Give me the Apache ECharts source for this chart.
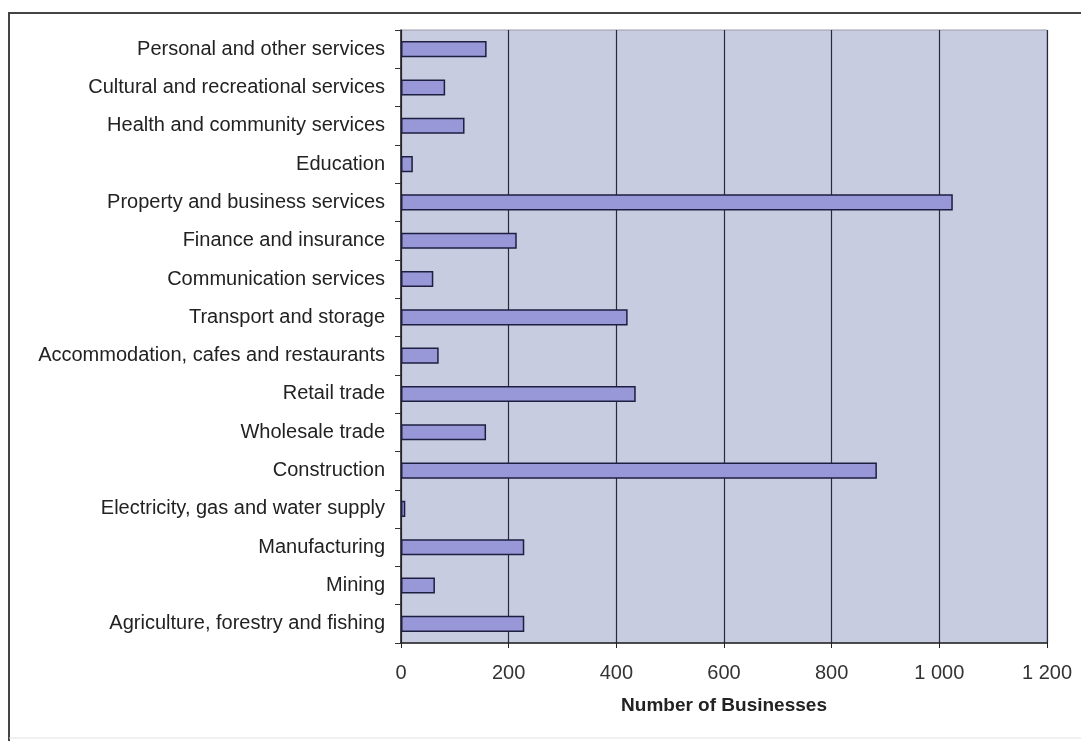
<!DOCTYPE html>
<html>
<head>
<meta charset="utf-8">
<script src="https://cdn.jsdelivr.net/npm/echarts@6/dist/echarts.min.js"></script>
<style>
  html, body { margin: 0; padding: 0; background: #ffffff; }
  #chart { width: 1081px; height: 741px; }
</style>
</head>
<body>
<div id="chart"></div>
<script>
// Industry sectors, listed top to bottom as displayed
const industries = [
  'Personal and other services',
  'Cultural and recreational services',
  'Health and community services',
  'Education',
  'Property and business services',
  'Finance and insurance',
  'Communication services',
  'Transport and storage',
  'Accommodation, cafes and restaurants',
  'Retail trade',
  'Wholesale trade',
  'Construction',
  'Electricity, gas and water supply',
  'Manufacturing',
  'Mining',
  'Agriculture, forestry and fishing'
];

// Number of businesses per sector
const businessCounts = [159, 82, 118, 22, 1025, 215, 60, 421, 70, 436, 158, 884, 8, 229, 63, 229];

const axisMin = 0;
const axisMax = 1200;
const axisStep = 200;
const axisTitle = 'Number of Businesses';

const chart = echarts.init(document.getElementById('chart'), null, { renderer: 'canvas' });

const fontFamily = '"Liberation Sans", Arial, sans-serif';

chart.setOption({
  animation: false,
  backgroundColor: '#ffffff',
  grid: {
    left: 401,
    top: 30,
    right: 34,
    bottom: 98,
    show: true,
    backgroundColor: '#c7cce0',
    borderColor: '#9a9ca8',
    borderWidth: 1
  },
  xAxis: {
    type: 'value',
    min: axisMin,
    max: axisMax,
    interval: axisStep,
    name: axisTitle,
    nameLocation: 'middle',
    nameGap: 53,
    nameTextStyle: { fontFamily: fontFamily, fontSize: 19, fontWeight: 'bold', color: '#222' },
    axisLine: { show: true, lineStyle: { color: '#222', width: 1.5 } },
    axisTick: { show: true, length: 5, lineStyle: { color: '#222' } },
    axisLabel: {
      fontFamily: fontFamily,
      fontSize: 20,
      color: '#333',
      margin: 20,
      formatter: v => String(v).replace(/\B(?=(\d{3})+(?!\d))/g, ' ')
    },
    splitLine: { show: true, lineStyle: { color: '#2a2a3a', width: 1.2 } }
  },
  yAxis: {
    type: 'category',
    data: industries,
    inverse: true,
    axisLine: { show: true, lineStyle: { color: '#222', width: 1.5 } },
    axisTick: { show: true, length: 6, lineStyle: { color: '#333' } },
    axisLabel: { fontFamily: fontFamily, fontSize: 20, color: '#222', margin: 16 }
  },
  series: [{
    type: 'bar',
    data: businessCounts,
    barWidth: '42%',
    itemStyle: {
      color: '#9898d8',
      borderColor: '#1e1e40',
      borderWidth: 1.5
    }
  }],
  graphic: [
    {
      type: 'polyline',
      shape: { points: [[9, 741], [9, 13], [1081, 13]] },
      style: { stroke: '#444', lineWidth: 2, fill: null },
      silent: true
    },
    {
      type: 'line',
      shape: { x1: 9, y1: 738, x2: 1081, y2: 738 },
      style: { stroke: '#e2e2e2', lineWidth: 1 },
      silent: true
    }
  ]
});
</script>
</body>
</html>
